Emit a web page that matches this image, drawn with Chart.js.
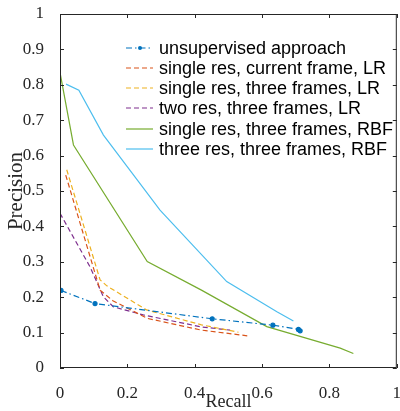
<!DOCTYPE html>
<html>
<head>
<meta charset="utf-8">
<script src="https://cdn.jsdelivr.net/npm/chart.js@4"></script>
<style>
  html, body { margin: 0; padding: 0; background: #fff; }
  #wrap { width: 400px; height: 411px; }
</style>
</head>
<body>
<div id="wrap"><canvas id="pr" width="400" height="411"></canvas></div>
<script>
// series names
const names = [
  "unsupervised approach",
  "single res, current frame, LR",
  "single res, three frames, LR",
  "two res, three frames, LR",
  "single res, three frames, RBF",
  "three res, three frames, RBF"
];

// recall / precision
const unsupRecall = [0.003, 0.104, 0.452, 0.632, 0.708, 0.713];
const unsupPrec   = [0.219, 0.182, 0.139, 0.121, 0.109, 0.105];

const curLrRecall = [0.017, 0.119, 0.157, 0.26, 0.42, 0.556];
const curLrPrec   = [0.545, 0.22, 0.19, 0.14, 0.107, 0.091];

const threeLrRecall = [0.02, 0.119, 0.139, 0.257, 0.42, 0.53];
const threeLrPrec   = [0.56, 0.249, 0.232, 0.164, 0.122, 0.101];

const twoResRecall = [0.0, 0.089, 0.129, 0.158, 0.247, 0.42, 0.505];
const twoResPrec   = [0.437, 0.286, 0.201, 0.173, 0.15, 0.116, 0.107];

const rbfRecall = [0.0, 0.04, 0.259, 0.42, 0.614, 0.832, 0.871];
const rbfPrec   = [0.835, 0.63, 0.301, 0.22, 0.117, 0.056, 0.041];

const rbf3Recall = [0.018, 0.056, 0.129, 0.297, 0.495, 0.644, 0.693];
const rbf3Prec   = [0.802, 0.785, 0.658, 0.446, 0.244, 0.159, 0.133];

const xTicks = [0, 0.2, 0.4, 0.6, 0.8, 1];
const yTicks = [0, 0.1, 0.2, 0.3, 0.4, 0.5, 0.6, 0.7, 0.8, 0.9, 1];

function pts(xs, ys) {
  return xs.map((x, i) => ({ x: x, y: ys[i] }));
}

const serif = "'Liberation Serif', 'DejaVu Serif', serif";
const sans = "'Liberation Sans', Arial, sans-serif";

// inward ticks + box like matlab
const boxPlugin = {
  id: 'box',
  afterDraw(chart) {
    const ctx = chart.ctx;
    const a = chart.chartArea;
    const xs = chart.scales.x, ys = chart.scales.y;
    ctx.save();
    ctx.strokeStyle = '#262626';
    ctx.lineWidth = 1;
    ctx.strokeRect(a.left + 0.5, a.top + 0.5, a.right - a.left - 1, a.bottom - a.top - 1);
    ctx.beginPath();
    xTicks.forEach(v => {
      const p = Math.round(xs.getPixelForValue(v)) + 0.5;
      ctx.moveTo(p, a.bottom); ctx.lineTo(p, a.bottom - 4);
      ctx.moveTo(p, a.top); ctx.lineTo(p, a.top + 4);
    });
    yTicks.forEach(v => {
      const p = Math.round(ys.getPixelForValue(v)) + 0.5;
      ctx.moveTo(a.left, p); ctx.lineTo(a.left + 4, p);
      ctx.moveTo(a.right, p); ctx.lineTo(a.right - 4, p);
    });
    ctx.stroke();
    ctx.restore();
  }
};

// legend drawn inside the axes
const innerLegend = {
  id: 'innerLegend',
  afterDatasetsDraw(chart) {
    const ctx = chart.ctx;
    const x0 = 126, x1 = 153, tx = 159;
    ctx.save();
    ctx.font = "18px " + sans;
    ctx.textBaseline = 'middle';
    chart.data.datasets.forEach((ds, i) => {
      const y = Math.round(47.5 + i * 20.3);
      ctx.strokeStyle = ds.borderColor;
      ctx.lineWidth = ds.borderWidth;
      ctx.setLineDash(ds.borderDash || []);
      ctx.beginPath();
      ctx.moveTo(x0, y); ctx.lineTo(x1, y);
      ctx.stroke();
      ctx.setLineDash([]);
      if (ds.pointRadius > 0) {
        ctx.fillStyle = ds.borderColor;
        ctx.beginPath();
        ctx.arc(140, y, ds.pointRadius, 0, Math.PI * 2);
        ctx.fill();
      }
      ctx.fillStyle = '#000';
      ctx.fillText(ds.label, tx, y + 1);
    });
    ctx.restore();
  }
};

function series(label, xs, ys, color, dash, radius) {
  return {
    label: label,
    data: pts(xs, ys),
    showLine: true,
    borderColor: color,
    backgroundColor: color,
    borderWidth: 1.2,
    borderDash: dash,
    pointRadius: radius,
    pointHoverRadius: radius,
    fill: false,
    tension: 0
  };
}

new Chart(document.getElementById("pr"), {
  type: 'scatter',
  data: {
    datasets: [
      series(names[0], unsupRecall, unsupPrec, '#0072BD', [6, 3, 1.5, 3], 2),
      series(names[1], curLrRecall, curLrPrec, '#D95319', [5, 3], 0),
      series(names[2], threeLrRecall, threeLrPrec, '#EDB120', [5, 3], 0),
      series(names[3], twoResRecall, twoResPrec, '#7E2F8E', [5, 3], 0),
      series(names[4], rbfRecall, rbfPrec, '#77AC30', [], 0),
      series(names[5], rbf3Recall, rbf3Prec, '#4DBEEE', [], 0)
    ]
  },
  options: {
    responsive: false,
    animation: false,
    layout: { padding: { top: 14, right: 3, left: 0, bottom: 0 } },
    plugins: {
      legend: { display: false },
      tooltip: { enabled: false }
    },
    scales: {
      x: {
        type: 'linear',
        min: 0, max: 1,
        afterFit: s => { s.height = 43; s.paddingLeft = 0; s.paddingRight = 0; },
        afterBuildTicks: s => { s.ticks = xTicks.map(v => ({ value: v })); },
        grid: { display: false },
        border: { display: false },
        ticks: {
          color: '#262626',
          font: { family: serif, size: 17, lineHeight: 1 },
          padding: 9,
          maxRotation: 0,
          callback: v => String(v)
        },
        title: {
          display: true,
          text: 'Recall',
          color: '#262626',
          font: { family: serif, size: 18, lineHeight: 1 },
          padding: { top: 0, bottom: 0 }
        }
      },
      y: {
        type: 'linear',
        min: 0, max: 1,
        afterFit: s => { s.width = 60; s.paddingTop = 0; s.paddingBottom = 0; },
        afterBuildTicks: s => { s.ticks = yTicks.map(v => ({ value: v })); },
        grid: { display: false },
        border: { display: false },
        ticks: {
          color: '#262626',
          font: { family: serif, size: 17 },
          padding: 8,
          callback: v => String(v)
        },
        title: {
          display: true,
          text: 'Precision',
          color: '#262626',
          font: { family: serif, size: 21, lineHeight: 1 },
          padding: { top: 6, bottom: 0 }
        }
      }
    }
  },
  plugins: [boxPlugin, innerLegend]
});
</script>
</body>
</html>
